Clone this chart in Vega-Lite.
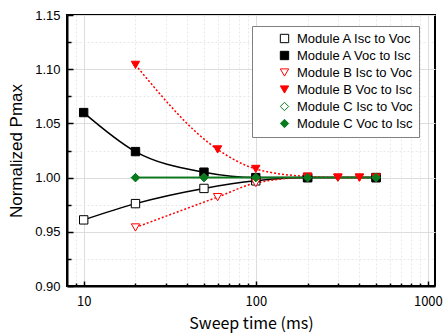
{
  "$schema": "https://vega.github.io/schema/vega-lite/v6.json",
  "width": 368,
  "height": 271,
  "autosize": "none",
  "padding": {"left": 67, "top": 15, "right": 8, "bottom": 50},
  "background": "white",
  "config": {
    "view": {"stroke": "black", "strokeWidth": 2},
    "axis": {
      "domainColor": "black",
      "domainWidth": 2,
      "tickColor": "black",
      "tickWidth": 1.5,
      "labelColor": "black",
      "titleColor": "black",
      "titleFontWeight": "normal"
    }
  },
  "data": {
    "values": [
      {"t": 10, "p": 0.961, "s": "Module A Isc to Voc", "m": "A"},
      {"t": 20, "p": 0.976, "s": "Module A Isc to Voc", "m": "A"},
      {"t": 50, "p": 0.990, "s": "Module A Isc to Voc", "m": "A"},
      {"t": 100, "p": 0.997, "s": "Module A Isc to Voc", "m": "A"},
      {"t": 200, "p": 1.000, "s": "Module A Isc to Voc", "m": "A"},
      {"t": 500, "p": 1.000, "s": "Module A Isc to Voc", "m": "A"},
      {"t": 10, "p": 1.060, "s": "Module A Voc to Isc", "m": "A"},
      {"t": 20, "p": 1.024, "s": "Module A Voc to Isc", "m": "A"},
      {"t": 50, "p": 1.005, "s": "Module A Voc to Isc", "m": "A"},
      {"t": 100, "p": 1.000, "s": "Module A Voc to Isc", "m": "A"},
      {"t": 200, "p": 1.000, "s": "Module A Voc to Isc", "m": "A"},
      {"t": 500, "p": 1.000, "s": "Module A Voc to Isc", "m": "A"},
      {"t": 20, "p": 0.954, "s": "Module B Isc to Voc", "m": "B"},
      {"t": 60, "p": 0.982, "s": "Module B Isc to Voc", "m": "B"},
      {"t": 100, "p": 0.995, "s": "Module B Isc to Voc", "m": "B"},
      {"t": 200, "p": 1.000, "s": "Module B Isc to Voc", "m": "B"},
      {"t": 300, "p": 1.000, "s": "Module B Isc to Voc", "m": "B"},
      {"t": 400, "p": 1.000, "s": "Module B Isc to Voc", "m": "B"},
      {"t": 500, "p": 1.000, "s": "Module B Isc to Voc", "m": "B"},
      {"t": 20, "p": 1.104, "s": "Module B Voc to Isc", "m": "B"},
      {"t": 60, "p": 1.026, "s": "Module B Voc to Isc", "m": "B"},
      {"t": 100, "p": 1.008, "s": "Module B Voc to Isc", "m": "B"},
      {"t": 200, "p": 1.001, "s": "Module B Voc to Isc", "m": "B"},
      {"t": 300, "p": 1.000, "s": "Module B Voc to Isc", "m": "B"},
      {"t": 400, "p": 1.000, "s": "Module B Voc to Isc", "m": "B"},
      {"t": 500, "p": 1.000, "s": "Module B Voc to Isc", "m": "B"},
      {"t": 20, "p": 1.000, "s": "Module C Isc to Voc", "m": "C"},
      {"t": 50, "p": 1.000, "s": "Module C Isc to Voc", "m": "C"},
      {"t": 100, "p": 1.000, "s": "Module C Isc to Voc", "m": "C"},
      {"t": 200, "p": 1.000, "s": "Module C Isc to Voc", "m": "C"},
      {"t": 500, "p": 1.000, "s": "Module C Isc to Voc", "m": "C"},
      {"t": 20, "p": 1.000, "s": "Module C Voc to Isc", "m": "C"},
      {"t": 50, "p": 1.000, "s": "Module C Voc to Isc", "m": "C"},
      {"t": 100, "p": 1.000, "s": "Module C Voc to Isc", "m": "C"},
      {"t": 200, "p": 1.000, "s": "Module C Voc to Isc", "m": "C"},
      {"t": 500, "p": 1.000, "s": "Module C Voc to Isc", "m": "C"}
    ]
  },
  "encoding": {
    "x": {
      "field": "t",
      "type": "quantitative",
      "scale": {"type": "log", "domain": [8, 1100], "nice": false},
      "axis": {
        "title": "Sweep time (ms)",
        "titleFont": "Noto Sans CJK JP",
        "titleFontSize": 16,
        "titlePadding": 5,
        "values": [9, 10, 20, 30, 40, 50, 60, 70, 80, 90, 100, 200, 300, 400, 500, 600, 700, 800, 900, 1000],
        "labelExpr": "indexof([10,100,1000], datum.value) >= 0 ? format(datum.value, 'd') : ''",
        "labelFont": "Noto Sans CJK JP",
        "labelFontSize": 13,
        "labelPadding": 14,
        "labelFlush": false,
        "labelOverlap": false,
        "tickSize": {"condition": {"test": "indexof([10,100,1000], datum.value) >= 0", "value": -5}, "value": -3},
        "grid": true,
        "gridColor": {"condition": {"test": "indexof([10,100,1000], datum.value) >= 0", "value": "#dddddd"}, "value": "#e8e8e8"},
        "gridDash": {"condition": {"test": "indexof([10,100,1000], datum.value) >= 0", "value": []}, "value": [2, 2]}
      }
    },
    "y": {
      "field": "p",
      "type": "quantitative",
      "scale": {"domain": [0.9, 1.15], "nice": false, "zero": false},
      "axis": {
        "title": "Normalized Pmax",
        "titleFont": "Liberation Sans",
        "titleFontSize": 17,
        "titlePadding": 9,
        "values": [0.9, 0.925, 0.95, 0.975, 1.0, 1.025, 1.05, 1.075, 1.1, 1.125, 1.15],
        "labelExpr": "round(datum.value*1000) % 50 == 0 ? format(datum.value, '.2f') : ''",
        "labelFont": "Liberation Sans",
        "labelFontSize": 13,
        "labelPadding": 13,
        "labelFlush": false,
        "labelOverlap": false,
        "tickSize": {"condition": {"test": "round(datum.value*1000) % 50 == 0", "value": -6}, "value": -4},
        "grid": true,
        "gridColor": {"condition": {"test": "round(datum.value*1000) % 50 == 0", "value": "#dddddd"}, "value": "#e8e8e8"},
        "gridDash": {"condition": {"test": "round(datum.value*1000) % 50 == 0", "value": []}, "value": [2, 2]}
      }
    }
  },
  "layer": [
    {
      "transform": [{"filter": "datum.m == 'A'"}],
      "mark": {"type": "line", "interpolate": "monotone", "strokeWidth": 1.5, "color": "#000000"},
      "encoding": {"detail": {"field": "s", "type": "nominal"}}
    },
    {
      "transform": [{"filter": "datum.m == 'B'"}],
      "mark": {"type": "line", "interpolate": "monotone", "strokeWidth": 1.5, "color": "#ff0000", "strokeDash": [2, 2]},
      "encoding": {"detail": {"field": "s", "type": "nominal"}}
    },
    {
      "transform": [{"filter": "datum.m == 'C'"}],
      "mark": {"type": "line", "interpolate": "monotone", "strokeWidth": 1.5, "color": "#0a7a1e"},
      "encoding": {"detail": {"field": "s", "type": "nominal"}}
    },
    {
      "mark": {"type": "point", "filled": true, "strokeWidth": 1, "opacity": 1},
      "encoding": {
        "shape": {
          "field": "s",
          "type": "nominal",
          "title": null,
          "scale": {
            "domain": ["Module A Isc to Voc", "Module A Voc to Isc", "Module B Isc to Voc", "Module B Voc to Isc", "Module C Isc to Voc", "Module C Voc to Isc"],
            "range": ["square", "square", "triangle-down", "triangle-down", "diamond", "diamond"]
          },
          "legend": {
            "orient": "none",
            "legendX": 185,
            "legendY": 11,
            "fillColor": "white",
            "strokeColor": "#808080",
            "padding": 6,
            "symbolOffset": 20,
            "labelOffset": 6,
            "labelFont": "Liberation Sans",
            "labelFontSize": 13,
            "labelColor": "black",
            "rowPadding": 3,
            "symbolStrokeWidth": 1
          }
        },
        "size": {
          "field": "s",
          "type": "nominal",
          "title": null,
          "scale": {
            "domain": ["Module A Isc to Voc", "Module A Voc to Isc", "Module B Isc to Voc", "Module B Voc to Isc", "Module C Isc to Voc", "Module C Voc to Isc"],
            "range": [70, 70, 85, 85, 110, 110]
          }
        },
        "fill": {
          "field": "s",
          "type": "nominal",
          "title": null,
          "scale": {
            "domain": ["Module A Isc to Voc", "Module A Voc to Isc", "Module B Isc to Voc", "Module B Voc to Isc", "Module C Isc to Voc", "Module C Voc to Isc"],
            "range": ["#ffffff", "#000000", "#ffffff", "#ff0000", "#ffffff", "#0a7a1e"]
          }
        },
        "stroke": {
          "field": "s",
          "type": "nominal",
          "title": null,
          "scale": {
            "domain": ["Module A Isc to Voc", "Module A Voc to Isc", "Module B Isc to Voc", "Module B Voc to Isc", "Module C Isc to Voc", "Module C Voc to Isc"],
            "range": ["#000000", "#000000", "#ff0000", "#ff0000", "#0a7a1e", "#0a7a1e"]
          }
        }
      }
    }
  ]
}
